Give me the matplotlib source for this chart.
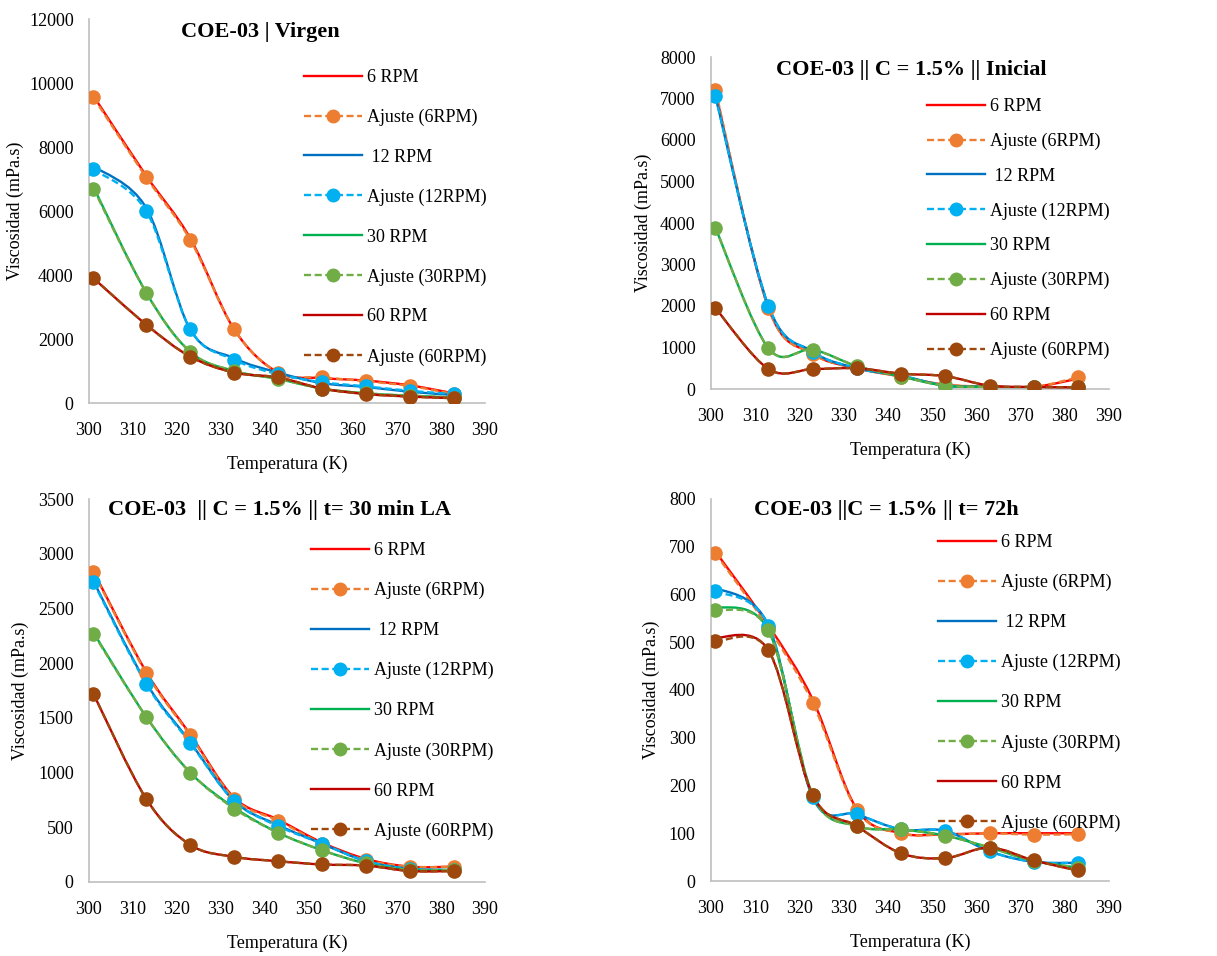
import numpy as np
import matplotlib
matplotlib.use('Agg')
import matplotlib.pyplot as plt
from matplotlib.path import Path
from matplotlib.patches import PathPatch
from matplotlib.lines import Line2D

plt.rcParams['font.family'] = ['Liberation Serif', 'DejaVu Serif']

# Temperatures (K)
temp = [301, 313, 323, 333, 343, 353, 363, 373, 383]

# COE-03 | Virgen
virgen_6 = [9600, 7100, 5150, 2300, 950, 780, 700, 550, 300]
virgen_6_fit = [9550, 7050, 5100, 2300, 950, 800, 680, 530, 280]
virgen_12 = [7400, 6100, 2300, 1400, 950, 620, 500, 350, 250]
virgen_12_fit = [7300, 6000, 2300, 1350, 900, 650, 520, 380, 280]
virgen_30 = [6750, 3450, 1600, 1000, 750, 450, 300, 230, 170]
virgen_30_fit = [6700, 3450, 1600, 1000, 750, 450, 300, 230, 170]
virgen_60 = [3900, 2450, 1450, 950, 800, 450, 280, 200, 150]
virgen_60_fit = [3900, 2450, 1450, 950, 800, 450, 280, 200, 150]

# COE-03 || C = 1.5% || Inicial
inicial_6 = [7150, 1950, 850, 500, 300, 100, 60, 50, 250]
inicial_6_fit = [7200, 1950, 850, 500, 300, 100, 60, 50, 280]
inicial_12 = [7050, 2000, 900, 500, 320, 80, 50, 40, 30]
inicial_12_fit = [7050, 2000, 900, 500, 320, 80, 50, 40, 30]
inicial_30 = [3880, 980, 950, 550, 300, 80, 50, 40, 40]
inicial_30_fit = [3880, 980, 950, 550, 300, 80, 50, 40, 40]
inicial_60 = [1950, 480, 480, 500, 370, 310, 80, 50, 40]
inicial_60_fit = [1950, 480, 480, 500, 370, 310, 80, 50, 40]

# COE-03 || C = 1.5% || t= 30 min LA
la_6 = [2840, 1920, 1350, 770, 570, 360, 210, 140, 140]
la_6_fit = [2830, 1910, 1340, 760, 560, 350, 200, 140, 140]
la_12 = [2750, 1820, 1280, 740, 520, 350, 190, 120, 110]
la_12_fit = [2740, 1810, 1270, 740, 510, 350, 190, 120, 110]
la_30 = [2280, 1510, 1000, 680, 450, 290, 170, 110, 110]
la_30_fit = [2270, 1510, 1000, 670, 450, 290, 170, 110, 110]
la_60 = [1720, 760, 340, 230, 190, 160, 150, 100, 100]
la_60_fit = [1720, 760, 340, 230, 190, 160, 150, 100, 100]

# COE-03 ||C = 1.5% || t= 72h
h72_6 = [690, 535, 380, 150, 100, 98, 100, 100, 100]
h72_6_fit = [686, 530, 373, 148, 100, 97, 100, 97, 98]
h72_12 = [615, 535, 175, 140, 108, 105, 62, 40, 38]
h72_12_fit = [607, 535, 175, 140, 108, 105, 62, 40, 38]
h72_30 = [575, 525, 180, 115, 108, 95, 70, 42, 28]
h72_30_fit = [568, 525, 180, 115, 108, 95, 70, 42, 28]
h72_60 = [510, 483, 180, 115, 58, 48, 70, 43, 22]
h72_60_fit = [502, 483, 180, 115, 58, 48, 70, 43, 22]

labels = ['6 RPM', 'Ajuste (6RPM)', ' 12 RPM', 'Ajuste (12RPM)',
          '30 RPM', 'Ajuste (30RPM)', '60 RPM', 'Ajuste (60RPM)']
colors = ['#FF0000', '#ED7D31', '#0070C0', '#00B0F0',
          '#00B050', '#70AD47', '#C00000', '#9E480E']

W, H = 1217, 956


def smooth_path(x, y):
    # Excel-like smoothed line: cubic Bezier through the points
    p = np.column_stack([x, y]).astype(float)
    n = len(p)
    verts = [p[0]]
    codes = [Path.MOVETO]
    for i in range(n - 1):
        p0 = p[i - 1] if i > 0 else p[i]
        p3 = p[i + 2] if i + 2 < n else p[i + 1]
        c1 = p[i] + (p[i + 1] - p0) / 6.0
        c2 = p[i + 1] - (p3 - p[i]) / 6.0
        verts += [c1, c2, p[i + 1]]
        codes += [Path.CURVE4] * 3
    return Path(verts, codes)


def px_axes(left, top, right, bottom):
    return fig.add_axes([left / W, 1 - bottom / H, (right - left) / W, (bottom - top) / H])


def draw_panel(ax, series, ymax, ystep, title, title_xy, leg_xy, leg_space, ylab_x):
    for i, ys in enumerate(series):
        fit = i % 2 == 1
        patch = PathPatch(smooth_path(temp, ys), fill=False, edgecolor=colors[i],
                          lw=1.7, linestyle=(0, (3, 1.5)) if fit else '-',
                          zorder=2 + i * 0.1)
        ax.add_patch(patch)
        if fit:
            ax.plot(temp, ys, 'o', color=colors[i], ms=9.5, zorder=3 + i * 0.1)
    ax.set_xlim(300, 390)
    ax.set_ylim(0, ymax)
    ax.set_xticks(np.arange(300, 391, 10))
    ax.set_yticks(np.arange(0, ymax + 1, ystep))
    ax.tick_params(length=0, labelsize=13, pad=11)
    ax.tick_params(axis='x', pad=14)
    for s in ['top', 'right']:
        ax.spines[s].set_visible(False)
    for s in ['left', 'bottom']:
        ax.spines[s].set_color('#BFBFBF')
        ax.spines[s].set_linewidth(1.2)
    ax.set_xlabel('Temperatura (K)', fontsize=13, labelpad=12)
    ax.set_ylabel('Viscosidad (mPa.s)', fontsize=13)
    bb = ax.get_position()
    ax.yaxis.set_label_coords((ylab_x / W - bb.x0) / bb.width, 0.5)

    handles = []
    for i in range(8):
        if i % 2 == 1:
            handles.append(Line2D([], [], color=colors[i], lw=1.7, linestyle=(0, (3, 1.5)),
                                  marker='o', ms=9))
        else:
            handles.append(Line2D([], [], color=colors[i], lw=1.7))
    fig.legend(handles, labels, loc='upper left',
               bbox_to_anchor=(leg_xy[0] / W, 1 - leg_xy[1] / H),
               frameon=False, fontsize=13, handlelength=3.2, handletextpad=0.3,
               borderpad=0, borderaxespad=0, labelspacing=leg_space)
    fig.text(title_xy[0] / W, 1 - title_xy[1] / H, title, fontsize=16,
             fontweight='bold', ha='center', va='center')


fig = plt.figure(figsize=(W / 100, H / 100), dpi=100)

ax1 = px_axes(89, 19, 485, 403)
draw_panel(ax1, [virgen_6, virgen_6_fit, virgen_12, virgen_12_fit,
                 virgen_30, virgen_30_fit, virgen_60, virgen_60_fit],
           12000, 2000, 'COE-03 | Virgen', (260, 32), (304, 69), 1.26, 24)

ax2 = px_axes(711, 57, 1109, 389)
draw_panel(ax2, [inicial_6, inicial_6_fit, inicial_12, inicial_12_fit,
                 inicial_30, inicial_30_fit, inicial_60, inicial_60_fit],
           8000, 1000, 'COE-03 || C = 1.5% || Inicial', (911, 70), (927, 98), 0.98, 652)

ax3 = px_axes(89, 499, 485, 882)
draw_panel(ax3, [la_6, la_6_fit, la_12, la_12_fit,
                 la_30, la_30_fit, la_60, la_60_fit],
           3500, 500, 'COE-03  || C = 1.5% || t= 30 min LA', (280, 510), (311, 542), 1.27, 29)

ax4 = px_axes(711, 499, 1109, 881)
draw_panel(ax4, [h72_6, h72_6_fit, h72_12, h72_12_fit,
                 h72_30, h72_30_fit, h72_60, h72_60_fit],
           800, 100, 'COE-03 ||C = 1.5% || t= 72h', (886, 510), (938, 534), 1.27, 660)

fig.savefig('out.png', dpi=100)
